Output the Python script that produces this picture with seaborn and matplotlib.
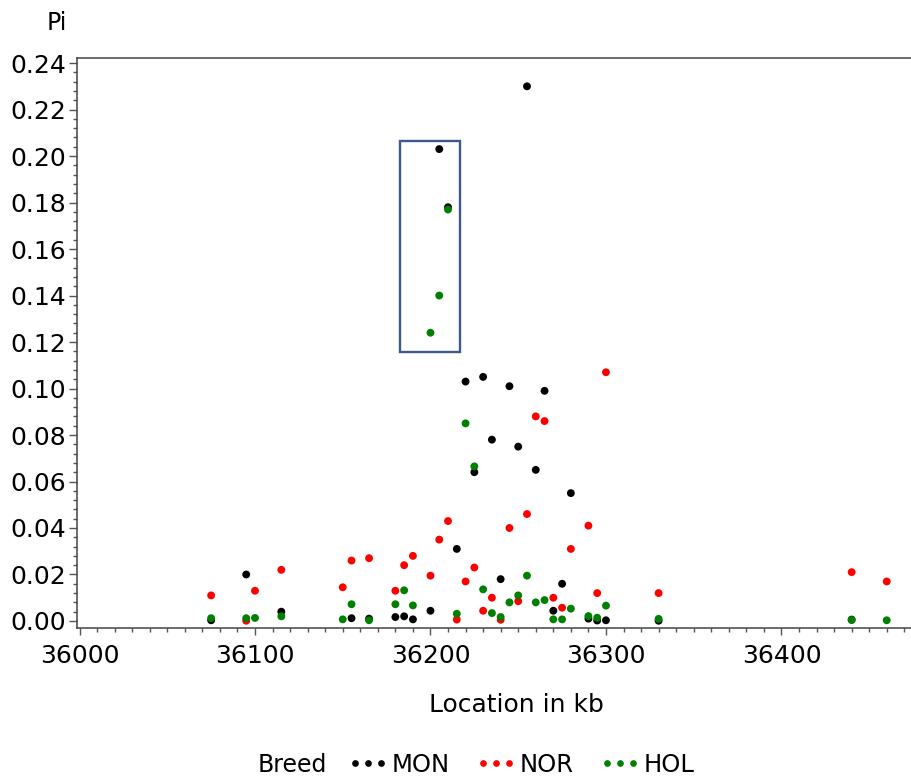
import pandas as pd
import seaborn as sns
import matplotlib
matplotlib.use('Agg')
import matplotlib.pyplot as plt
from matplotlib.lines import Line2D
from matplotlib.patches import Rectangle
from matplotlib.ticker import MultipleLocator, FormatStrFormatter

# posicoes (kb) e valores de Pi por raca
mon_kb = [36075, 36095, 36115, 36155, 36165, 36180, 36185, 36190, 36200, 36205,
          36210, 36215, 36220, 36225, 36230, 36235, 36240, 36245, 36250, 36255,
          36260, 36265, 36270, 36275, 36280, 36290, 36295, 36300, 36330, 36440]
mon_pi = [0.0003, 0.020, 0.0040, 0.0012, 0.0010, 0.0017, 0.0020, 0.0007, 0.0044, 0.203,
          0.178, 0.031, 0.103, 0.064, 0.105, 0.078, 0.018, 0.101, 0.075, 0.230,
          0.065, 0.099, 0.0044, 0.016, 0.055, 0.0010, 0.0002, 0.0003, 0.0001, 0.0006]

nor_kb = [36075, 36095, 36100, 36115, 36150, 36155, 36165, 36180, 36185, 36190,
          36200, 36205, 36210, 36215, 36220, 36225, 36230, 36235, 36240, 36245,
          36250, 36255, 36260, 36265, 36270, 36275, 36280, 36290, 36295, 36300,
          36330, 36440, 36460]
nor_pi = [0.011, 0.0001, 0.013, 0.022, 0.0145, 0.026, 0.027, 0.013, 0.024, 0.028,
          0.0195, 0.035, 0.043, 0.0006, 0.017, 0.023, 0.0044, 0.010, 0.0005, 0.040,
          0.0085, 0.046, 0.088, 0.086, 0.010, 0.0057, 0.031, 0.041, 0.012, 0.107,
          0.012, 0.021, 0.017]

hol_kb = [36075, 36095, 36100, 36115, 36150, 36155, 36165, 36180, 36185, 36190,
          36200, 36205, 36210, 36215, 36220, 36225, 36230, 36235, 36240, 36245,
          36250, 36255, 36260, 36265, 36270, 36275, 36280, 36290, 36295, 36300,
          36330, 36440, 36460]
hol_pi = [0.0012, 0.0012, 0.0013, 0.0020, 0.0007, 0.0072, 0.0003, 0.0072, 0.0132, 0.0067,
          0.124, 0.140, 0.177, 0.0031, 0.085, 0.0665, 0.0136, 0.0034, 0.0017, 0.008,
          0.011, 0.0195, 0.008, 0.009, 0.0007, 0.0007, 0.0053, 0.0021, 0.0014, 0.0066,
          0.0009, 0.0004, 0.0003]

racas = ['MON', 'NOR', 'HOL']
cores = {'MON': 'black', 'NOR': '#ff0000', 'HOL': '#008000'}

# regiao destacada (caixa azul)
caixa_x = (36182.5, 36217)
caixa_y = (0.1155, 0.2065)

dados = pd.concat([
    pd.DataFrame({'kb': mon_kb, 'Pi': mon_pi, 'Breed': 'MON'}),
    pd.DataFrame({'kb': nor_kb, 'Pi': nor_pi, 'Breed': 'NOR'}),
    pd.DataFrame({'kb': hol_kb, 'Pi': hol_pi, 'Breed': 'HOL'}),
], ignore_index=True)

sns.set_style('white')
plt.rcParams['font.family'] = ['DejaVu Sans']
plt.rcParams['text.color'] = 'black'
plt.rcParams['axes.labelcolor'] = 'black'
plt.rcParams['xtick.labelcolor'] = 'black'
plt.rcParams['ytick.labelcolor'] = 'black'

fig = plt.figure(figsize=(9.12, 7.79), dpi=100)
ax = fig.add_axes([0.0841, 0.1942, 0.9159, 0.7317])

sns.scatterplot(data=dados, x='kb', y='Pi', hue='Breed', palette=cores,
                s=32, linewidth=0, legend=False, ax=ax, zorder=3)

ax.add_patch(Rectangle((caixa_x[0], caixa_y[0]), caixa_x[1] - caixa_x[0],
                       caixa_y[1] - caixa_y[0], fill=False,
                       edgecolor='#3d5a8a', linewidth=1.7, zorder=2))

ax.set_xlim(35998.4, 36474.4)
ax.set_ylim(-0.0029, 0.2423)
ax.xaxis.set_major_locator(MultipleLocator(100))
ax.xaxis.set_minor_locator(MultipleLocator(10))
ax.yaxis.set_major_locator(MultipleLocator(0.02))
ax.yaxis.set_minor_locator(MultipleLocator(0.004))
ax.yaxis.set_major_formatter(FormatStrFormatter('%.2f'))

ax.tick_params(which='both', direction='out', color='#555555', width=1)
ax.tick_params(axis='x', which='major', length=5, pad=7, labelsize=18)
ax.tick_params(axis='y', which='major', length=6, pad=1.5, labelsize=18)
ax.tick_params(which='minor', length=3)
ax.tick_params(axis='x', which='both', bottom=True)
ax.tick_params(axis='y', which='both', left=True)

for lado in ['left', 'bottom', 'top']:
    ax.spines[lado].set_color('#444444')
    ax.spines[lado].set_linewidth(1.1)
ax.spines['right'].set_visible(False)

ax.set_xlabel('Location in kb', fontsize=18)
ax.xaxis.set_label_coords(0.527, -0.115)
ax.set_ylabel('')
fig.text(57 / 912, 1 - 23 / 779, 'Pi', fontsize=17, ha='center', va='center')

# legenda embaixo
fig.text(292 / 912, 1 - 765 / 779, 'Breed', fontsize=17, ha='center', va='center')
alcas = [Line2D([], [], marker='o', linestyle='none', color=cores[r], markersize=3.8)
         for r in racas]
fig.legend(alcas, racas, loc='center left', bbox_to_anchor=(348 / 912, 1 - 765 / 779),
           ncol=3, frameon=False, numpoints=3, fontsize=17.5, handlelength=1.65,
           handletextpad=0.13, columnspacing=1.1, borderpad=0, borderaxespad=0)

fig.savefig('out.png', dpi=100)
